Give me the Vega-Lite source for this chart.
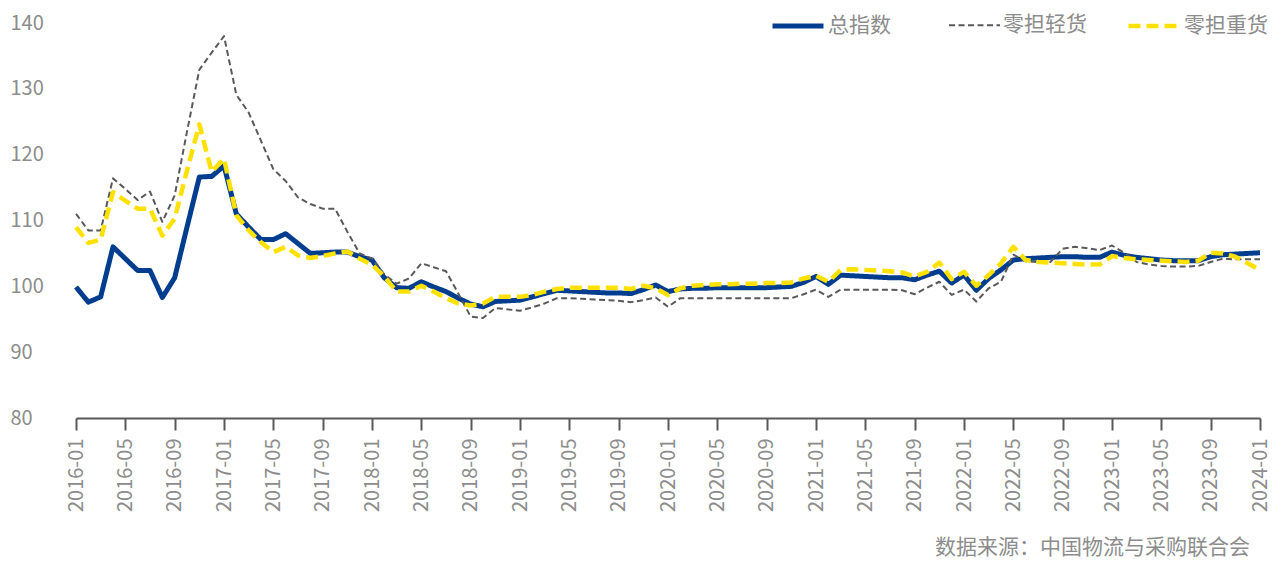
{
  "$schema": "https://vega.github.io/schema/vega-lite/v6.json",
  "width": 1184,
  "height": 395,
  "autosize": {"type": "none"},
  "padding": {"left": 76, "top": 23, "right": 26, "bottom": 143},
  "background": "white",
  "config": {
    "view": {"stroke": null},
    "font": "Noto Sans CJK SC"
  },
  "title": {
    "text": "数据来源：中国物流与采购联合会",
    "orient": "bottom",
    "anchor": "end",
    "fontSize": 21,
    "fontWeight": "normal",
    "color": "#8c8c8c",
    "font": "Noto Sans CJK SC",
    "offset": 25,
    "dx": -20
  },
  "data": {
    "values": [
      {"m":"2016-01","总指数":99.9,"零担轻货":111.0,"零担重货":109.0},
      {"m":"2016-02","总指数":97.6,"零担轻货":108.5,"零担重货":106.6},
      {"m":"2016-03","总指数":98.4,"零担轻货":108.5,"零担重货":107.1},
      {"m":"2016-04","总指数":106.0,"零担轻货":116.4,"零担重货":114.3},
      {"m":"2016-05","总指数":104.2,"零担轻货":114.8,"零担重货":113.0},
      {"m":"2016-06","总指数":102.4,"零担轻货":113.1,"零担重货":111.8},
      {"m":"2016-07","总指数":102.4,"零担轻货":114.4,"零担重货":111.8},
      {"m":"2016-08","总指数":98.3,"零担轻货":109.8,"零担重货":107.7},
      {"m":"2016-09","总指数":101.3,"零担轻货":113.8,"零担重货":110.3},
      {"m":"2016-10","总指数":109.0,"零担轻货":123.5,"零担重货":117.6},
      {"m":"2016-11","总指数":116.6,"零担轻货":132.9,"零担重货":124.6},
      {"m":"2016-12","总指数":116.7,"零担轻货":135.5,"零担重货":117.4},
      {"m":"2017-01","总指数":118.3,"零担轻货":138.0,"零担重货":119.4},
      {"m":"2017-02","总指数":111.0,"零担轻货":129.1,"零担重货":110.8},
      {"m":"2017-03","总指数":109.0,"零担轻货":126.4,"零担重货":108.5},
      {"m":"2017-04","总指数":107.1,"零担轻货":122.1,"零担重货":106.7},
      {"m":"2017-05","总指数":107.1,"零担轻货":117.8,"零担重货":105.2},
      {"m":"2017-06","总指数":108.0,"零担轻货":116.0,"零担重货":106.0},
      {"m":"2017-07","总指数":106.5,"零担轻货":113.5,"零担重货":104.7},
      {"m":"2017-08","总指数":105.0,"零担轻货":112.5,"零担重货":104.3},
      {"m":"2017-09","总指数":105.1,"零担轻货":111.8,"零担重货":104.6},
      {"m":"2017-10","总指数":105.2,"零担轻货":111.8,"零担重货":105.0},
      {"m":"2017-11","总指数":105.2,"零担轻货":108.3,"零担重货":105.3},
      {"m":"2017-12","总指数":104.5,"零担轻货":105.0,"零担重货":104.2},
      {"m":"2018-01","总指数":104.0,"零担轻货":104.2,"零担重货":103.3},
      {"m":"2018-02","总指数":101.3,"零担轻货":101.8,"零担重货":101.5},
      {"m":"2018-03","总指数":99.8,"零担轻货":100.4,"零担重货":99.2},
      {"m":"2018-04","总指数":99.7,"零担轻货":101.2,"零担重货":99.2},
      {"m":"2018-05","总指数":100.7,"零担轻货":103.5,"零担重货":100.1},
      {"m":"2018-06","总指数":99.9,"零担轻货":102.9,"零担重货":99.2},
      {"m":"2018-07","总指数":99.2,"零担轻货":102.3,"零担重货":98.2},
      {"m":"2018-08","总指数":98.2,"零担轻货":98.9,"零担重货":97.4},
      {"m":"2018-09","总指数":97.3,"零担轻货":95.4,"零担重货":97.1},
      {"m":"2018-10","总指数":96.9,"零担轻货":95.2,"零担重货":97.4},
      {"m":"2018-11","总指数":97.7,"零担轻货":96.7,"零担重货":98.4},
      {"m":"2018-12","总指数":97.8,"零担轻货":96.5,"零担重货":98.4},
      {"m":"2019-01","总指数":97.9,"零担轻货":96.3,"零担重货":98.4},
      {"m":"2019-02","总指数":98.4,"零担轻货":96.8,"零担重货":98.7},
      {"m":"2019-03","总指数":98.9,"零担轻货":97.4,"零担重货":99.2},
      {"m":"2019-04","总指数":99.4,"零担轻货":98.2,"零担重货":99.6},
      {"m":"2019-05","总指数":99.3,"零担轻货":98.2,"零担重货":99.8},
      {"m":"2019-06","总指数":99.2,"零担轻货":98.1,"零担重货":99.8},
      {"m":"2019-07","总指数":99.1,"零担轻货":98.0,"零担重货":99.8},
      {"m":"2019-08","总指数":99.0,"零担轻货":97.9,"零担重货":99.8},
      {"m":"2019-09","总指数":99.0,"零担轻货":97.8,"零担重货":99.8},
      {"m":"2019-10","总指数":98.9,"零担轻货":97.6,"零担重货":99.6},
      {"m":"2019-11","总指数":99.5,"零担轻货":97.9,"零担重货":100.1},
      {"m":"2019-12","总指数":100.2,"零担轻货":98.3,"零担重货":99.7},
      {"m":"2020-01","总指数":99.2,"零担轻货":96.9,"零担重货":98.7},
      {"m":"2020-02","总指数":99.6,"零担轻货":98.2,"零担重货":99.7},
      {"m":"2020-03","总指数":99.7,"零担轻货":98.2,"零担重货":100.1},
      {"m":"2020-04","总指数":99.7,"零担轻货":98.2,"零担重货":100.2},
      {"m":"2020-05","总指数":99.8,"零担轻货":98.2,"零担重货":100.3},
      {"m":"2020-06","总指数":99.8,"零担轻货":98.2,"零担重货":100.3},
      {"m":"2020-07","总指数":99.8,"零担轻货":98.2,"零担重货":100.4},
      {"m":"2020-08","总指数":99.8,"零担轻货":98.2,"零担重货":100.4},
      {"m":"2020-09","总指数":99.8,"零担轻货":98.2,"零担重货":100.5},
      {"m":"2020-10","总指数":99.9,"零担轻货":98.2,"零担重货":100.5},
      {"m":"2020-11","总指数":100.0,"零担轻货":98.2,"零担重货":100.6},
      {"m":"2020-12","总指数":100.6,"零担轻货":98.8,"零担重货":101.2},
      {"m":"2021-01","总指数":101.5,"零担轻货":99.5,"零担重货":101.6},
      {"m":"2021-02","总指数":100.3,"零担轻货":98.4,"零担重货":100.7},
      {"m":"2021-03","总指数":101.7,"零担轻货":99.5,"零担重货":102.5},
      {"m":"2021-04","总指数":101.6,"零担轻货":99.5,"零担重货":102.6},
      {"m":"2021-05","总指数":101.5,"零担轻货":99.5,"零担重货":102.5},
      {"m":"2021-06","总指数":101.4,"零担轻货":99.5,"零担重货":102.4},
      {"m":"2021-07","总指数":101.3,"零担轻货":99.5,"零担重货":102.3},
      {"m":"2021-08","总指数":101.3,"零担轻货":99.4,"零担重货":102.1},
      {"m":"2021-09","总指数":101.0,"零担轻货":98.8,"零担重货":101.5},
      {"m":"2021-10","总指数":101.7,"零担轻货":99.8,"零担重货":102.2},
      {"m":"2021-11","总指数":102.3,"零担轻货":100.7,"零担重货":103.6},
      {"m":"2021-12","总指数":100.5,"零担轻货":98.7,"零担重货":101.1},
      {"m":"2022-01","总指数":101.7,"零担轻货":99.5,"零担重货":102.2},
      {"m":"2022-02","总指数":99.4,"零担轻货":97.7,"零担重货":100.1},
      {"m":"2022-03","总指数":101.2,"零担轻货":99.7,"零担重货":101.7},
      {"m":"2022-04","总指数":102.5,"零担轻货":100.7,"零担重货":103.5},
      {"m":"2022-05","总指数":104.0,"零担轻货":104.8,"零担重货":106.0},
      {"m":"2022-06","总指数":104.2,"零担轻货":103.8,"零担重货":104.0},
      {"m":"2022-07","总指数":104.3,"零担轻货":103.7,"零担重货":103.7},
      {"m":"2022-08","总指数":104.4,"零担轻货":103.7,"零担重货":103.6},
      {"m":"2022-09","总指数":104.5,"零担轻货":105.7,"零担重货":103.5},
      {"m":"2022-10","总指数":104.5,"零担轻货":106.0,"零担重货":103.4},
      {"m":"2022-11","总指数":104.4,"零担轻货":105.8,"零担重货":103.3},
      {"m":"2022-12","总指数":104.4,"零担轻货":105.5,"零担重货":103.3},
      {"m":"2023-01","总指数":105.2,"零担轻货":106.2,"零担重货":104.6},
      {"m":"2023-02","总指数":104.7,"零担轻货":105.1,"零担重货":104.3},
      {"m":"2023-03","总指数":104.4,"零担轻货":103.7,"零担重货":104.1},
      {"m":"2023-04","总指数":104.2,"零担轻货":103.3,"零担重货":104.0},
      {"m":"2023-05","总指数":104.0,"零担轻货":103.1,"零担重货":103.9},
      {"m":"2023-06","总指数":103.9,"零担轻货":103.0,"零担重货":103.8},
      {"m":"2023-07","总指数":103.9,"零担轻货":103.0,"零担重货":103.7},
      {"m":"2023-08","总指数":103.9,"零担轻货":103.1,"零担重货":103.9},
      {"m":"2023-09","总指数":104.5,"零担轻货":103.7,"零担重货":105.1},
      {"m":"2023-10","总指数":104.8,"零担轻货":104.2,"零担重货":105.0},
      {"m":"2023-11","总指数":104.9,"零担轻货":104.1,"零担重货":104.5},
      {"m":"2023-12","总指数":105.0,"零担轻货":104.1,"零担重货":103.5},
      {"m":"2024-01","总指数":105.1,"零担轻货":104.1,"零担重货":102.5}
    ]
  },
  "transform": [
    {"fold": ["总指数", "零担轻货", "零担重货"], "as": ["series", "value"]}
  ],
  "mark": {"type": "line", "strokeJoin": "round"},
  "encoding": {
    "x": {
      "field": "m",
      "type": "ordinal",
      "sort": null,
      "scale": {"type": "point", "padding": 0},
      "axis": {
        "title": null,
        "values": ["2016-01","2016-05","2016-09","2017-01","2017-05","2017-09","2018-01","2018-05","2018-09","2019-01","2019-05","2019-09","2020-01","2020-05","2020-09","2021-01","2021-05","2021-09","2022-01","2022-05","2022-09","2023-01","2023-05","2023-09","2024-01"],
        "labelAngle": -90,
        "labelFontSize": 20,
        "labelColor": "#8c8c8c",
        "labelFont": "Noto Sans CJK SC",
        "labelPadding": 8,
        "domainColor": "#595959",
        "domainWidth": 2,
        "tickColor": "#595959",
        "tickWidth": 2,
        "tickSize": 12,
        "grid": false
      }
    },
    "y": {
      "field": "value",
      "type": "quantitative",
      "scale": {"domain": [80, 140], "nice": false, "zero": false},
      "axis": {
        "title": null,
        "values": [80, 90, 100, 110, 120, 130, 140],
        "grid": false,
        "domain": false,
        "ticks": false,
        "labelAlign": "left",
        "labelPadding": 66,
        "labelFontSize": 20,
        "labelColor": "#8c8c8c",
        "labelFont": "Noto Sans CJK SC"
      }
    },
    "color": {
      "field": "series",
      "type": "nominal",
      "scale": {"domain": ["总指数", "零担轻货", "零担重货"], "range": ["#003d8f", "#595959", "#ffe100"]},
      "legend": {
        "title": null,
        "orient": "none",
        "legendX": 694,
        "legendY": -25,
        "direction": "horizontal",
        "gridAlign": "all",
        "columnPadding": 29,
        "symbolType": "stroke",
        "symbolSize": 2600,
        "labelOffset": 2,
        "labelFontSize": 21,
        "labelColor": "#8c8c8c",
        "labelFont": "Noto Sans CJK SC",
        "padding": 0
      }
    },
    "strokeDash": {
      "field": "series",
      "type": "nominal",
      "scale": {"domain": ["总指数", "零担轻货", "零担重货"], "range": [[1, 0], [6, 3.5], [12, 6]]},
      "legend": null
    },
    "strokeWidth": {
      "field": "series",
      "type": "nominal",
      "scale": {"type": "ordinal", "domain": ["总指数", "零担轻货", "零担重货"], "range": [5, 2, 4.5]},
      "legend": null
    }
  }
}
